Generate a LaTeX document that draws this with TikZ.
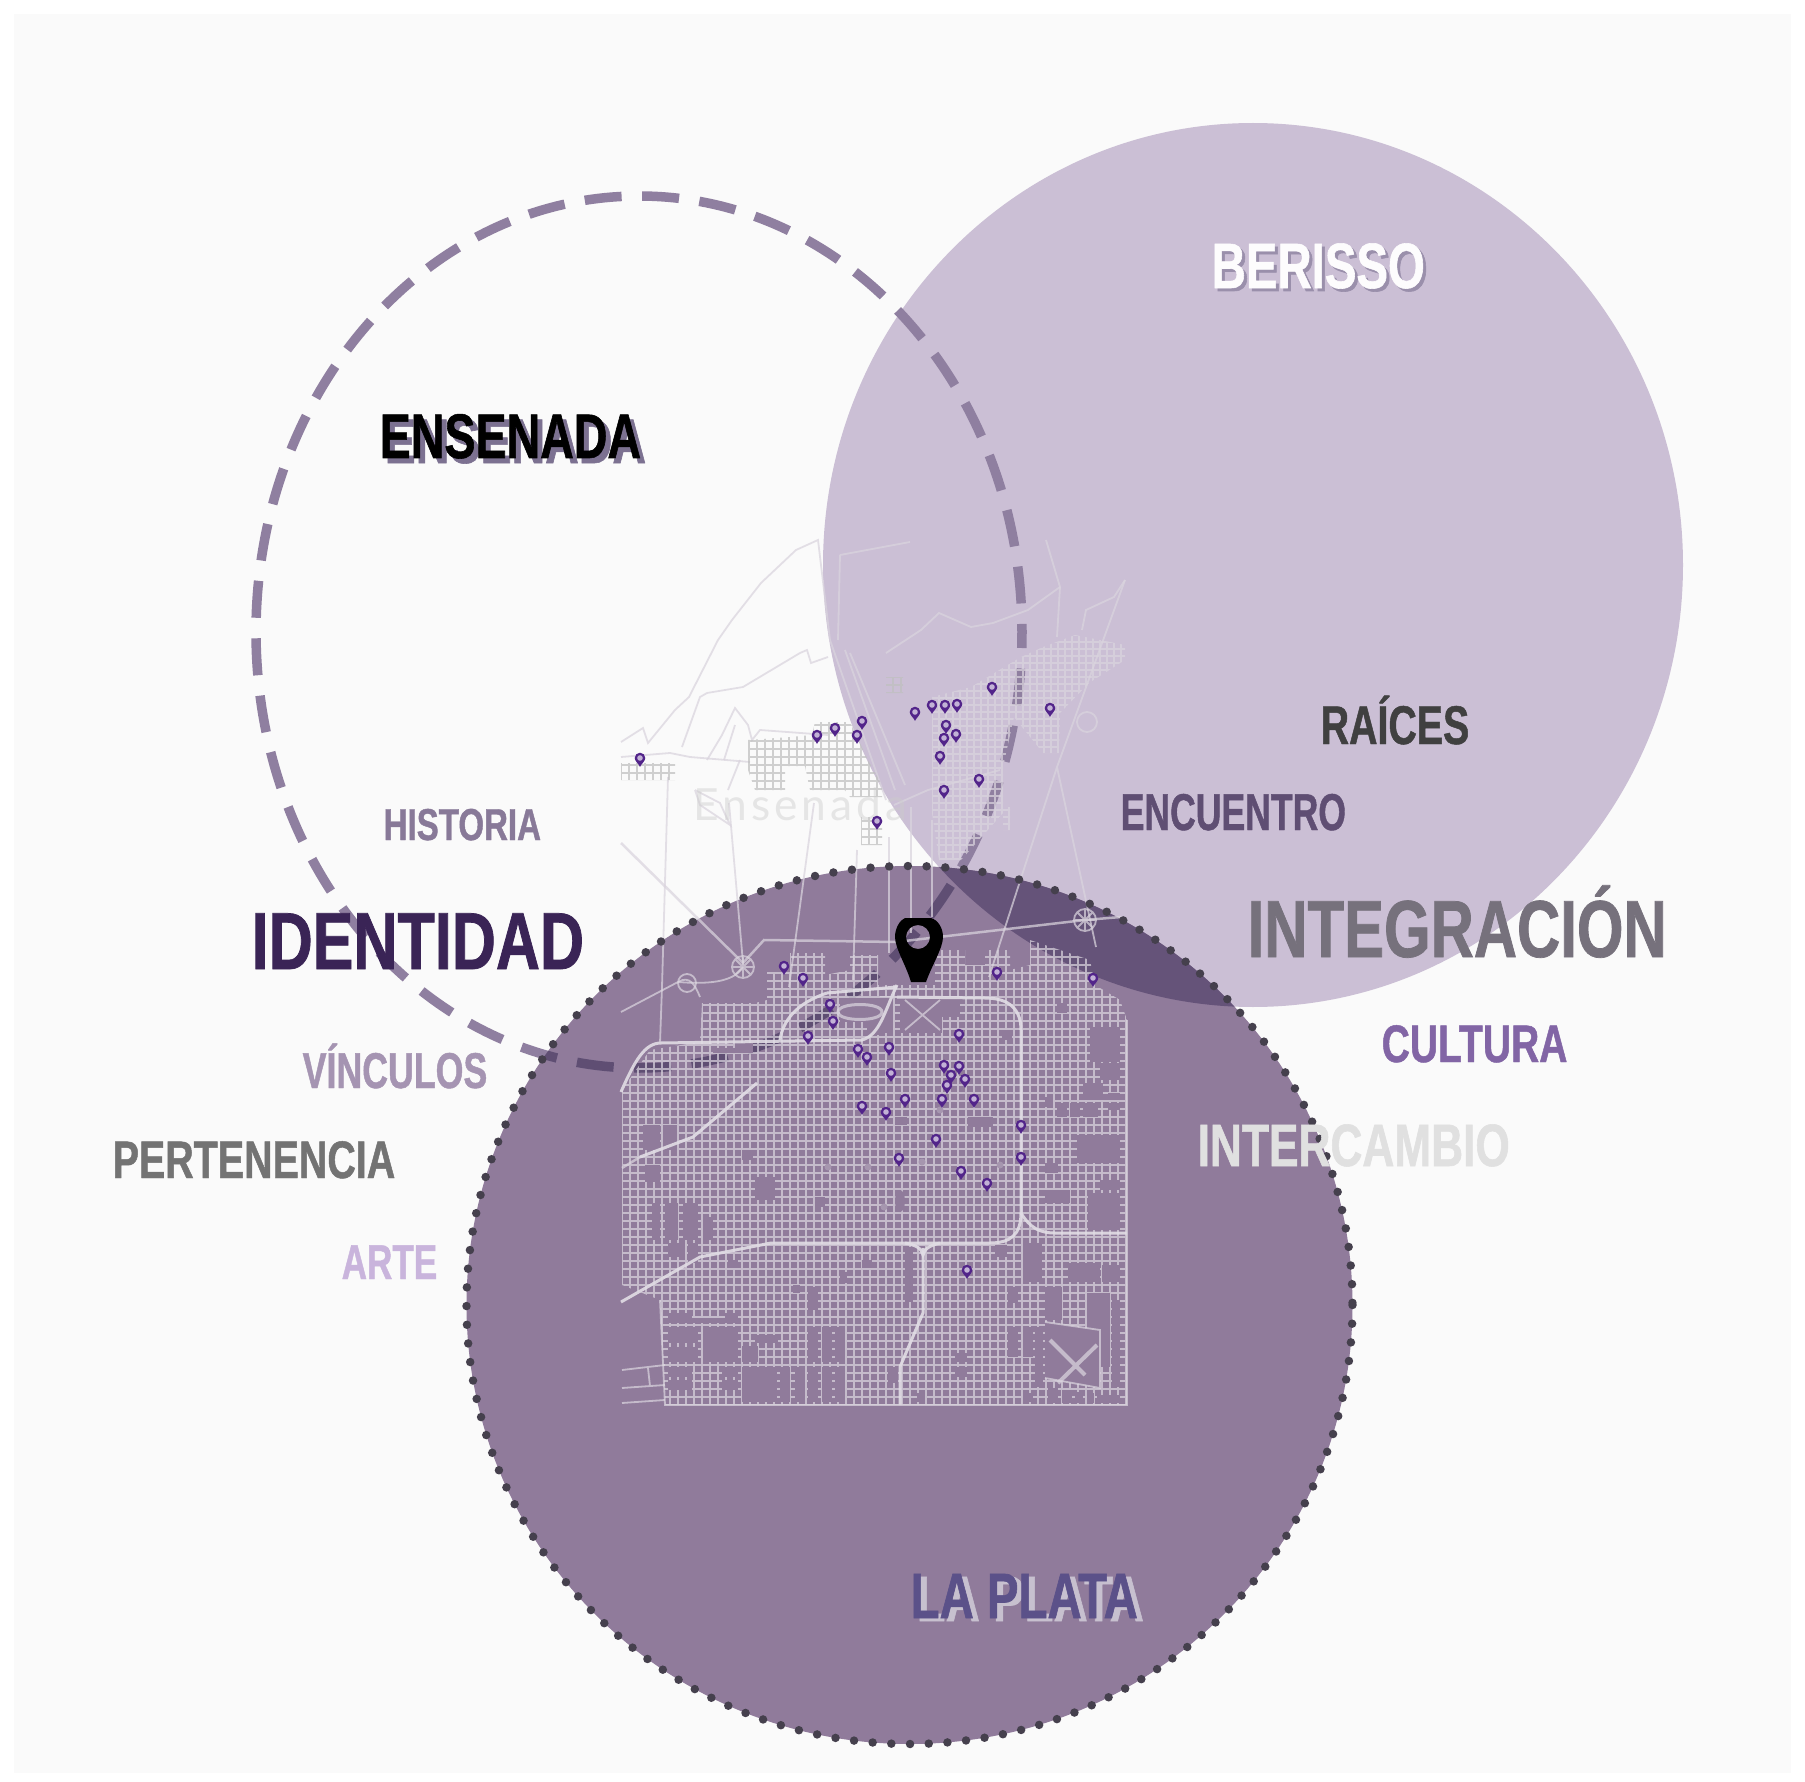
\documentclass[tikz,border=0pt]{standalone}
\usepackage{fontspec}
\newfontfamily\labfont{Liberation Sans}[FakeStretch=0.74,BoldFeatures={FakeBold=0.9}]
\newfontfamily\ghostfont{Lato}[LetterSpace=9]
\newcommand{\sz}[1]{\fontsize{#1}{#1}\selectfont}
\definecolor{paperc}{HTML}{FAFAFA}
\definecolor{berissoc}{HTML}{CBBFD5}
\definecolor{laplatac}{HTML}{907B9B}
\definecolor{overlapc}{HTML}{655379}
\definecolor{dashc}{HTML}{8F7FA0}
\definecolor{dashdark}{HTML}{5F4E73}
\definecolor{dotc}{HTML}{45404D}
\definecolor{roadc}{HTML}{DAD4DE}
\definecolor{pinc}{HTML}{52248A}
\tikzset{
  x=0.01cm, y=-0.01cm,
  road/.style={draw=roadc, line width=0.018cm, draw opacity=0.72},
  avenue/.style={road, draw=roadc!80!white, line width=0.03cm, draw opacity=0.9},
  ensedge/.style={line width=0.095cm, dash pattern=on 0.37cm off 0.205cm, dash phase=0.21cm},
  lbl/.style={anchor=base west, inner sep=0pt, font=\labfont\bfseries},
  mappin/.pic={
    \fill[pinc] (0,8.8) .. controls (-1.5,5.7) and (-5.3,3) .. (-5.3,0) arc (180:360:5.3) .. controls (5.3,3) and (1.5,5.7) .. (0,8.8) -- cycle;
    \fill[white, opacity=0.65] (0,0) circle (2.8);
  }
}
\begin{document}
\begin{tikzpicture}
	\useasboundingbox (0,0) rectangle (1805,1782);
	\fill[white] (0,0) rectangle (1805,1782);
	\fill[paperc] (14,14) rectangle (1791,1773);

	% CIRCLES
	\fill[berissoc] (1253,565) ellipse [x radius=430, y radius=442];
	\fill[laplatac] (909.5,1305) ellipse [x radius=443, y radius=439];
	\begin{scope}
		\clip (1253,565) ellipse [x radius=430, y radius=442];
		\fill[overlapc] (909.5,1305) ellipse [x radius=443, y radius=439];
	\end{scope}
	\draw[dashc, ensedge] (639,632) ellipse [x radius=383, y radius=436];
	\begin{scope}
		\clip (909.5,1305) ellipse [x radius=443, y radius=439];
		\draw[dashdark, ensedge] (639,632) ellipse [x radius=383, y radius=436];
	\end{scope}

	% LA PLATA GRID
	\begin{scope}
		\clip (622,1090) -- (650,1050) -- (700,1042) -- (702,1003) -- (755,1003) -- (767,1000) -- (767,972) -- (790,972)
			-- (790,953) -- (825,953) -- (825,975) -- (850,970) -- (850,955) -- (878,955) -- (878,985) -- (935,985)
			-- (935,950) -- (965,950) -- (965,965) -- (985,965) -- (985,950) -- (1010,950) -- (1010,970) -- (1030,965)
			-- (1030,940) -- (1090,960) -- (1095,985) -- (1120,1000) -- (1127,1020) -- (1127,1405) -- (665,1405)
			-- (660,1300) -- (622,1285) -- cycle;
		\draw[road] \foreach \x in {622,630,...,1127} {(\x,930) -- (\x,1405)}
			\foreach \y in {933,941,...,1405} {(600,\y) -- (1130,\y)};
	\end{scope}
	% blocks without streets
	\foreach \xa/\ya/\xb/\yb in {
		675/1005/698/1040, 713/1048/735/1053, 735/1043/753/1053, 643/1125/660/1150, 663/1125/677/1150,
		645/1165/660/1182, 742/1150/753/1160, 755/1177/775/1200, 815/1197/825/1207, 652/1203/660/1240,
		665/1203/678/1240, 683/1203/698/1240, 703/1217/713/1240, 668/1243/685/1257, 688/1243/698/1263,
		728/1260/738/1268, 840/1272/847/1283, 862/1260/872/1268, 793/1285/800/1293, 808/1287/818/1310,
		668/1313/692/1323, 692/1318/723/1323, 725/1313/738/1323, 668/1327/698/1343, 703/1327/738/1362,
		668/1347/698/1362, 742/1346/758/1362, 755/1335/778/1343, 742/1367/777/1402, 780/1367/790/1402,
		795/1367/805/1402, 808/1327/818/1362, 808/1367/818/1402, 822/1327/832/1362, 822/1367/832/1402,
		835/1327/845/1362, 835/1367/845/1402, 668/1367/692/1377, 668/1380/692/1390, 722/1367/738/1377,
		722/1380/738/1390, 895/1117/907/1125, 968/1117/993/1127, 1002/1030/1012/1040, 905/1247/913/1302,
		995/1245/1007/1257, 1023/1243/1042/1282, 1008/1287/1018/1303, 1045/1190/1070/1203, 1088/1193/1120/1230,
		1068/1263/1100/1282, 1102/1265/1120/1282, 1045/1287/1062/1320, 1008/1327/1018/1357, 1023/1327/1033/1357,
		1035/1327/1043/1387, 1087/1293/1110/1367, 1112/1300/1120/1387, 1048/1388/1058/1403, 1062/1390/1072/1403,
		1075/1392/1083/1403, 1087/1393/1094/1403, 1097/1395/1120/1403, 955/1353/967/1362, 955/1367/967/1377,
		888/1367/898/1383, 917/1393/925/1402, 1023/1393/1033/1402, 900/997/942/1033, 880/997/893/1033,
		942/997/960/1017, 867/1022/880/1035, 840/998/880/1022, 1057/1003/1067/1013, 1045/1097/1053/1107,
		1057/1103/1067/1117, 1070/1103/1080/1117, 1083/1103/1098/1117, 1108/1093/1120/1100, 1108/1103/1120/1110,
		1077/1135/1120/1163, 1045/1163/1058/1173, 1100/1180/1120/1190, 1083/1083/1103/1100, 1090/1027/1120/1062,
		1100/1063/1120/1080}
		\fill[laplatac] (\xa,\ya) rectangle (\xb,\yb);
	\fill[laplatac] (1045,1322) -- (1100,1330) -- (1100,1388) -- (1045,1378) -- cycle;
	\fill[laplatac] (900,1201) ellipse [x radius=5, y radius=11];
	\foreach \x/\y in {828/1167, 868/1167, 922/1162, 940/1110, 1000/1165, 884/1207}
		\fill[laplatac!70!roadc] (\x,\y) circle (3.5);

	% AVENUES
	\draw[avenue] (621,1092) .. controls (635,1060) and (645,1043) .. (661,1043) -- (862,1040) .. controls (880,1035) and (885,1010) .. (897,985);
	\draw[avenue] (827,993) .. controls (797,1003) and (783,1020) .. (780,1040);
	\draw[avenue] (827,993) -- (897,987);
	\draw[avenue] (897,997) -- (985,998) .. controls (1010,998) and (1021,1010) .. (1021,1030) -- (1021,1213)
		.. controls (1021,1235) and (1010,1243) .. (990,1243) -- (771,1243) -- (700,1257) -- (621,1302);
	\draw[avenue] (1021,1213) .. controls (1030,1228) and (1040,1233) .. (1055,1233) -- (1127,1233);
	\draw[avenue] (923,1248) -- (923,1313) -- (900,1367) -- (900,1405);
	\draw[avenue] (905,1243) .. controls (915,1245) and (922,1248) .. (923,1255) .. controls (924,1248) and (932,1245) .. (940,1243);
	\draw[avenue] (757,1083) -- (693,1137) -- (640,1157);
	\draw[road] (621,1012) -- (678,982) .. controls (690,975) and (695,985) .. (700,997);
	\draw[road] (678,982) .. controls (715,985) and (735,980) .. (743,967);
	\draw[road, line width=0.025cm] (621,843) -- (743,963) -- (764,940) -- (896,942) -- (1085,920) -- (1121,917);
	\draw[road, line width=0.03cm] (838,1012) .. controls (838,1002) and (882,1002) .. (882,1012) .. controls (882,1022) and (838,1022) .. (838,1012) -- cycle;
	\draw[road] (905,1030) -- (940,1000) (905,1000) -- (940,1030) (880,997) -- (942,997);
	\foreach \x/\y in {743/967, 1085/920}
		\draw[road] (\x,\y) circle (11) (\x-11,\y) -- (\x+11,\y) (\x,\y-11) -- (\x,\y+11) (\x-8,\y-8) -- (\x+8,\y+8) (\x+8,\y-8) -- (\x-8,\y+8);
	\draw[road] (687,983) circle (9);
	% airport and south edge
	\draw[road] (1045,1322) -- (1100,1330) -- (1100,1388) -- (1045,1378);
	\draw[road, line width=0.04cm] (1050,1340) -- (1085,1375) (1058,1383) -- (1097,1345);
	\draw[road] (622,1370) -- (665,1365) (622,1388) -- (665,1385) (622,1403) -- (665,1400) (648,1368) -- (650,1386);
	\draw[road] (660,1300) -- (665,1405) -- (1127,1405) -- (1127,1020);
	\draw[road, line width=0.025cm] (640,1157) -- (622,1168);

	% LONG ROADS AND COAST
	\draw[road] (668,777) -- (662,987) -- (660,1043) (729,803) -- (743,963) (814,803) -- (789,987) (857,850) -- (853,980);
	\draw[road] (889,837) -- (889,953) (911,807) -- (911,933) (932,820) -- (932,917);
	\draw[road] (1125,580) -- (1057,767) -- (989,977) (1057,767) -- (1096,947);
	\draw[road] (621,742) -- (643,728) -- (648,743) -- (675,710) -- (689,697) -- (718,640) -- (732,620) -- (761,583) -- (796,550) -- (818,540) -- (824,590) -- (830,640);
	\draw[road] (682,747) -- (700,697) -- (707,693) -- (743,687) -- (800,653) -- (807,650) -- (811,663) -- (828,657);
	\draw[road] (707,760) -- (722,735) -- (735,708) -- (748,725) -- (752,740) -- (760,730) -- (828,735);
	\draw[road] (724,760) -- (735,725) (740,760) -- (728,790);
	\draw[road] (621,757) -- (670,753) -- (690,757) -- (750,762);
	\draw[road] (695,790) -- (720,803) -- (730,825) -- (700,805) -- (695,790);
	\draw[road] (840,555) -- (910,542) (840,555) -- (838,640) (830,640) -- (886,800) (845,650) -- (895,790) (850,653) -- (905,785);
	\draw[road] (886,653) -- (921,630) -- (939,613) -- (971,627) -- (993,623) -- (1028,610) -- (1060,587);
	\draw[road] (1046,540) -- (1060,587) -- (1057,637);
	\draw[road] (1082,630) -- (1086,610) -- (1114,597) -- (1125,580);
	\draw[road] (1087,722) circle (10);
	\draw[road] (894,805) -- (928,790) -- (1000,770);

	% ENSENADA AND BERISSO GRIDS
	\begin{scope}
		\clip (748,740) -- (790,737) -- (812,735) -- (815,722) -- (850,722) -- (868,760) -- (882,785) -- (882,797)
			-- (850,797) -- (845,790) -- (810,790) -- (805,766) -- (785,766) -- (785,790) -- (755,790) -- (748,770) -- cycle
			(621,763) rectangle (675,780) (861,817) rectangle (882,845) (886,677) rectangle (903,693);
		\draw[road, draw=black!25] \foreach \x in {621,629,...,905} {(\x,675) -- (\x,850)}
			\foreach \y in {677,685,...,850} {(620,\y) -- (905,\y)};
	\end{scope}
	\begin{scope}
		\clip (932,697) -- (932,813) -- (939,860) -- (961,860) -- (1003,813) -- (1003,767) -- (1014,717) -- (1043,753)
			-- (1059,753) -- (1060,713) -- (1089,683) -- (1125,660) -- (1125,645) -- (1075,635) -- (1043,647)
			-- (1021,657) -- (971,687) -- cycle (1003,807) rectangle (1010,830);
		\draw[road] \foreach \x in {925,932,...,1127} {(\x,630) -- (\x,862)}
			\foreach \y in {635,642,...,862} {(925,\y) -- (1127,\y)};
	\end{scope}
	\node[anchor=base west, inner sep=0pt, text=black!20, opacity=0.45, font=\ghostfont\sz{12.6}] (ghostname) at (693,820) {Ensenada};

	% PINS
	\foreach \x/\y in {640/758, 817/735, 835/728, 862/721, 857/735, 915/712, 932/705, 945/705, 957/704, 992/687, 1050/708,
		946/725, 956/734, 944/738, 940/756, 979/779, 944/790, 877/821,
		784/966, 803/978, 997/972, 1093/978, 830/1004, 833/1021, 808/1036, 858/1049, 867/1057, 889/1047, 959/1034,
		891/1073, 944/1065, 959/1066, 951/1075, 965/1079, 947/1085, 905/1099, 942/1099, 974/1099, 862/1106, 886/1112,
		1021/1125, 936/1139, 1021/1157, 899/1158, 961/1171, 987/1183, 967/1270}
		\pic at (\x,\y) {mappin};
	\fill[black, even odd rule] (905,918) -- (931,918) .. controls (938,920) and (943,928) .. (943,937)
		.. controls (943,948) and (932,965) .. (926,982) -- (911,982) .. controls (906,965) and (895,948) .. (895,937)
		.. controls (895,928) and (900,920) .. (905,918) -- cycle (918,937) circle (12);

	% DOTTED EDGE
	\draw[dotc, line width=0.085cm, line cap=round, dash pattern=on 0pt off 0.187cm] (909.5,1305) ellipse [x radius=443, y radius=439];

	% LABELS
	\definecolor{ensshadow}{HTML}{7C7191}
	\definecolor{berisshadow}{HTML}{9A8FAB}
	\definecolor{platashadow}{HTML}{C7C0CF}
	\definecolor{platatext}{HTML}{5B5189}
	\definecolor{identtext}{HTML}{3A2456}
	\definecolor{culttext}{HTML}{8265A5}
	\definecolor{artetext}{HTML}{C9B4DC}
	\definecolor{vinctext}{HTML}{A594B2}
	\node[lbl, text=ensshadow, font=\labfont\bfseries\sz{17.9}] (ensenadash) at (384,463) {ENSENADA};
	\node[lbl, text=black, font=\labfont\bfseries\sz{17.9}] (ensenada) at (379,458) {ENSENADA};
	\node[lbl, text=berisshadow, font=\labfont\bfseries\sz{18.2}] (berissosh) at (1214,291) {BERISSO};
	\node[lbl, text=white!96!berissoc, font=\labfont\bfseries\sz{18.2}] (berisso) at (1211,288) {BERISSO};
	\node[lbl, text=platashadow, font=\labfont\bfseries\sz{18.2}] (laplatash) at (916,1621) {LA PLATA};
	\node[lbl, text=platatext, font=\labfont\bfseries\sz{18.2}] (laplata) at (910,1618) {LA PLATA};
	\node[lbl, text=gray!70!dashdark, font=\labfont\bfseries\sz{23}] (integracion) at (1247,957) {INTEGRACIÓN};
	\node[lbl, text=identtext, font=\labfont\bfseries\sz{23}] (identidad) at (251,969) {\scalebox{1.02}[1]{IDENTIDAD}};
	\node[lbl, text=culttext, font=\labfont\bfseries\sz{15}] (cultura) at (1381,1062) {CULTURA};
	\node[lbl, text=black!12, font=\labfont\bfseries\sz{17}] (intercambio) at (1197,1166) {INTERCAMBIO};
	\node[lbl, text=dashc!95!black, font=\labfont\bfseries\sz{12.7}] (historia) at (383,840) {HISTORIA};
	\node[lbl, text=vinctext, font=\labfont\bfseries\sz{14.3}] (vinculos) at (302,1088) {\scalebox{0.96}[1]{VÍNCULOS}};
	\node[lbl, text=black!55, font=\labfont\bfseries\sz{15}] (pertenencia) at (112,1178) {\scalebox{1.01}[1]{PERTENENCIA}};
	\node[lbl, text=artetext, font=\labfont\bfseries\sz{13.9}] (arte) at (341,1279) {\scalebox{0.97}[1]{ARTE}};
	\node[lbl, text=black!75, font=\labfont\bfseries\sz{15.5}] (raices) at (1320,744) {\scalebox{0.975}[1]{RAÍCES}};
	\node[lbl, text=dashdark, font=\labfont\bfseries\sz{14.7}] (encuentro) at (1120,830) {\scalebox{0.93}[1]{ENCUENTRO}};
\end{tikzpicture}
\end{document}
